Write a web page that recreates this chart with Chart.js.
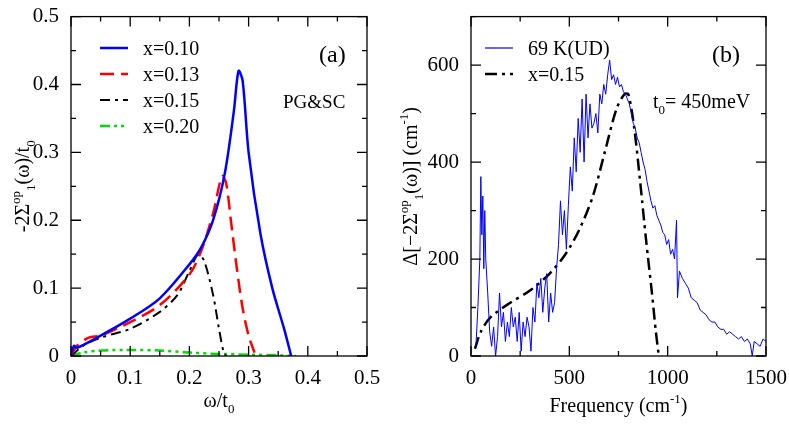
<!DOCTYPE html>
<html><head><meta charset="utf-8">
<script src="https://cdn.jsdelivr.net/npm/chart.js@4"></script>
<style>body{margin:0;background:#fff;width:789px;height:435px;overflow:hidden}
.c{position:absolute;top:0;height:435px}</style></head>
<body>
<div class="c" style="left:0;width:395px"><canvas id="a"></canvas></div>
<div class="c" style="left:395px;width:394px"><canvas id="b"></canvas></div>
<script>
// ---- Panel (a) data ----
const a_x010=[0,0.005,0.01,0.05,0.1,0.15,0.2,0.22,0.24,0.26,0.275,0.283,0.29,0.3,0.32,0.34,0.36,0.372];
const a_y010=[0,0.015,0.012,0.03,0.055,0.085,0.135,0.16,0.2,0.27,0.36,0.42,0.405,0.3,0.18,0.1,0.04,0];
const a_x013=[0,0.01,0.03,0.05,0.1,0.15,0.2,0.22,0.24,0.255,0.262,0.27,0.28,0.29,0.3,0.31];
const a_y013=[0,0.015,0.027,0.03,0.05,0.075,0.12,0.155,0.21,0.265,0.255,0.2,0.13,0.07,0.03,0.005];
const a_x015=[0,0.02,0.05,0.1,0.15,0.18,0.2,0.215,0.225,0.24,0.25,0.258,0.262];
const a_y015=[0,0.015,0.027,0.04,0.065,0.09,0.125,0.15,0.14,0.09,0.04,0.005,0];
const a_x020=[0,0.02,0.05,0.1,0.15,0.2,0.25,0.3,0.35,0.38];
const a_y020=[0,0.005,0.008,0.009,0.008,0.005,0.003,0.002,0.001,0];
const a_labels=["x=0.10","x=0.13","x=0.15","x=0.20"];
// ---- Panel (b) data ----
const b_xexp=[25,35,45,50,55,60,65,70,75,85,95,105,115,125,135,145,155,165,175,185,195,205,215,225,235,245,255,265,275,285,295,305,315,325,335,345,355,365,375,385,395,405,415,425,435,445,455,465,475,485,495,505,515,525,535,545,555,565,575,585,595,605,615,625,635,645,655,665,675,685,695,705,715,725,735,745,755,765,775,785,795,805,815,825,835,845,855,865,875,885,895,905,915,925,935,945,955,965,975,985,995,1005,1015,1025,1035,1045,1050,1060,1075,1090,1105,1120,1135,1150,1165,1180,1195,1210,1225,1240,1255,1270,1285,1300,1315,1330,1345,1360,1375,1390,1405,1420,1430,1440,1455,1470,1485,1500];
const b_yexp=[20,100,200,370,250,330,180,300,200,130,50,20,60,0,40,130,60,90,30,70,40,100,60,80,30,90,10,70,40,80,60,10,100,70,150,120,160,90,140,170,70,130,90,110,180,230,320,250,300,220,310,390,340,450,380,490,420,530,400,540,450,520,470,480,500,460,540,520,560,540,580,610,570,580,560,575,555,560,545,540,530,520,500,480,470,450,440,420,400,385,360,340,320,305,310,290,280,270,255,250,230,240,210,220,200,280,120,175,160,150,140,120,115,110,95,90,85,75,70,70,60,55,55,45,50,45,40,35,40,30,35,25,0,30,25,20,35,30];
const b_xth=[20,50,100,200,300,400,480,550,620,680,740,780,800,830,860,890,920,940,955];
const b_yth=[15,50,80,110,135,170,210,260,330,420,510,540,540,470,360,240,130,50,0];
const b_labels=["69 K(UD)","x=0.15"];

const F='"Liberation Serif","DejaVu Serif",serif';
const pts=(xs,ys)=>xs.map((x,i)=>({x,y:ys[i]}));
function rich(ctx,x,y,segs,align){
  let w=0;segs.forEach(s=>{ctx.font=s[1]+'px '+F;w+=ctx.measureText(s[0]).width;});
  let cx=align==='center'?x-w/2:x;
  segs.forEach(s=>{ctx.font=s[1]+'px '+F;ctx.fillText(s[0],cx,y+(s[2]||0));cx+=ctx.measureText(s[0]).width;});
}
function ticksPlugin(minorX,minorY,extra){return {id:'tk',afterDraw(c){
  const ctx=c.ctx,a=c.chartArea,sx=c.scales.x,sy=c.scales.y;
  ctx.save();ctx.strokeStyle='#000';ctx.lineWidth=1.3;
  ctx.strokeRect(a.left,a.top,a.right-a.left,a.bottom-a.top);
  for(let v=sx.min;v<=sx.max+1e-9;v+=minorX){const p=sx.getPixelForValue(v);
    const maj=Math.abs(Math.round(v/(minorX*2))*(minorX*2)-v)<1e-9;const L=maj?10:5;
    ctx.beginPath();ctx.moveTo(p,a.bottom);ctx.lineTo(p,a.bottom-L);ctx.moveTo(p,a.top);ctx.lineTo(p,a.top+L);ctx.stroke();}
  for(let v=sy.min;v<=sy.max+1e-9;v+=minorY){const p=sy.getPixelForValue(v);
    const maj=Math.abs(Math.round(v/(minorY*2))*(minorY*2)-v)<1e-9;const L=maj?10:5;
    ctx.beginPath();ctx.moveTo(a.left,p);ctx.lineTo(a.left+L,p);ctx.moveTo(a.right,p);ctx.lineTo(a.right-L,p);ctx.stroke();}
  ctx.fillStyle='#000';ctx.textBaseline='alphabetic';extra(ctx,a);ctx.restore();}}}
function leg(ctx,x,y,items){items.forEach((it,i)=>{const yy=y+i*26;
  ctx.save();ctx.strokeStyle=it.c;ctx.lineWidth=it.w;ctx.setLineDash(it.d);ctx.beginPath();ctx.moveTo(x,yy);ctx.lineTo(x+28,yy);ctx.stroke();ctx.restore();
  ctx.font='20px '+F;ctx.fillStyle='#000';ctx.fillText(it.t,x+43,yy+7);});}
function scales(xmin,xmax,xstep,ymin,ymax,ystep,yw,fmtx,fmty){return {
  x:{type:'linear',min:xmin,max:xmax,grid:{display:false},border:{display:false},
     ticks:{stepSize:xstep,color:'#000',font:{family:F,size:21},padding:2,maxRotation:0,callback:fmtx},
     afterFit(s){s.height=79;}},
  y:{type:'linear',min:ymin,max:ymax,grid:{display:false},border:{display:false},
     ticks:{stepSize:ystep,color:'#000',font:{family:F,size:21},padding:4,callback:fmty},
     afterFit(s){s.width=yw;}}};}
const base={responsive:true,maintainAspectRatio:false,animation:false,
  plugins:{legend:{display:false},tooltip:{enabled:false}},elements:{point:{radius:0}}};
const ds=(data,c,w,d)=>({data,borderColor:c,borderWidth:w,borderDash:d,pointRadius:0,tension:0.3,fill:false});
const styA=[['#0000ff',2.5,[]],['#ff0000',2.5,[14,7]],['#000',2,[10,5,3,5]],['#00dd00',2.5,[10,4,3,4,3,4]]];
new Chart(document.getElementById('a'),{type:'line',
  data:{datasets:[pts(a_x010,a_y010),pts(a_x013,a_y013),pts(a_x015,a_y015),pts(a_x020,a_y020)].map((p,i)=>ds(p,...styA[i]))},
  options:{...base,layout:{padding:{top:14,right:28,left:0,bottom:0}},
    scales:scales(0,0.5,0.1,0,0.5,0.1,71,v=>v===0?'0':v.toFixed(1),v=>v===0?'0':v.toFixed(1))},
  plugins:[ticksPlugin(0.05,0.05,(ctx,a)=>{
    leg(ctx,100,48,a_labels.map((t,i)=>({t,c:styA[i][0],w:styA[i][1],d:styA[i][2]})));
    ctx.font='24px '+F;ctx.fillText('(a)',319,62);
    ctx.font='19px '+F;ctx.fillText('PG&SC',283,108);
    rich(ctx,(a.left+a.right)/2,407,[['ω/t',20],['0',13,6]],'center');
    ctx.save();ctx.translate(29,(a.top+a.bottom)/2);ctx.rotate(-Math.PI/2);
    rich(ctx,0,0,[['-2Σ',20],['op',13,-9],['1',13,6],['(ω)/t',20],['0',13,6]],'center');ctx.restore();
  })]});
new Chart(document.getElementById('b'),{type:'line',
  data:{datasets:[{...ds(pts(b_xexp,b_yexp),'#0000ff',1,[]),tension:0},ds(pts(b_xth,b_yth),'#000',2.5,[12,5,3,5])]},
  options:{...base,layout:{padding:{top:14,right:22,left:0,bottom:0}},
    scales:scales(0,1500,500,0,700,200,76,v=>String(v),v=>v>600?'':String(v))},
  plugins:[ticksPlugin(250,100,(ctx,a)=>{
    leg(ctx,90,48,b_labels.map((t,i)=>({t,c:i?'#000':'#0000ff',w:i?2.5:1.2,d:i?[12,5,3,5]:[]})));
    ctx.font='24px '+F;ctx.fillText('(b)',317,62);
    rich(ctx,258,108,[['t',20],['0',13,6],['= 450meV',20]]);
    rich(ctx,(a.left+a.right)/2,412,[['Frequency (cm',20],['-1',13,-9],[')',20]],'center');
    ctx.save();ctx.translate(22,(a.top+a.bottom)/2);ctx.rotate(-Math.PI/2);
    rich(ctx,0,0,[['Δ[−2Σ',20],['op',13,-9],['1',13,6],['(ω)] (cm',20],['-1',13,-9],[')',20]],'center');ctx.restore();
  })]});
</script></body></html>
